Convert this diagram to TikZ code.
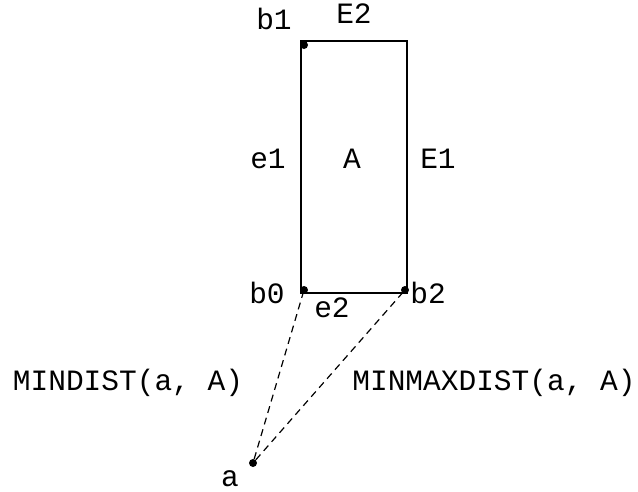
\documentclass[tikz,border=0pt]{standalone}
\usepackage{fontspec}
\setmainfont{Liberation Mono}
\usetikzlibrary{calc}

\begin{document}
\begin{tikzpicture}[
    x=1pt,y=-1pt,
    pt/.style={circle,fill=black,minimum size=8pt,inner sep=0pt},
    ln/.style={line width=1.6pt,black},
    dl/.style={line width=1.2pt,black,dash pattern=on 7pt off 5pt},
    lab/.style={anchor=base,inner sep=0pt,font=\fontsize{29.5}{30}\selectfont}
  ]
    \useasboundingbox (0,0) rectangle (638,491);
    % rectangle A
    \coordinate (c0) at (301,293); \coordinate (c1) at (407,41);
    \draw[ln] (c0) rectangle (c1);
    \node[pt] (b1) at (304,45) {}; \node[pt] (b0) at (304,290) {};
    \node[pt] (b2) at (405,290) {}; \node[pt] (a) at (253,463) {};
    \draw[dl] (a)--(b0.center); \draw[dl] (a)--(b2.center);
    % labels
    \node[lab] (lb1) at (274,29) {b1}; \node[lab] (lE2) at (354,23) {E2};
    \node[lab] (le1) at (268,168) {e1}; \node[lab] (lA) at (352,168) {A};
    \node[lab] (lE1) at (438,168) {E1};
    \node[lab] (lb0) at (267,303) {b0}; \node[lab] (le2) at (332,317) {e2};
    \node[lab] (lb2) at (428,303) {b2};
    \node[lab] (lmin) at (128,390) {MINDIST(a, A)};
    \node[lab] (lmm) at (494,390) {MINMAXDIST(a, A)};
    \node[lab] (la) at (230,486) {a};
  \end{tikzpicture}
\end{document}
